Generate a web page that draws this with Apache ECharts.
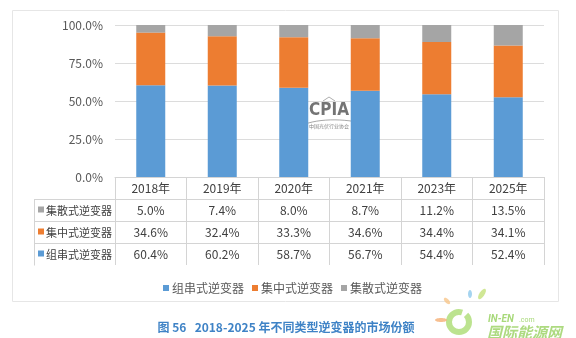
<!DOCTYPE html>
<html>
<head>
<meta charset="utf-8">
<script src="https://cdn.jsdelivr.net/npm/echarts@6/dist/echarts.min.js"></script>
<style>
  html, body { margin: 0; padding: 0; background: #ffffff; }
  #chart { width: 576px; height: 338px; }
</style>
</head>
<body>
<div id="chart"></div>
<script>
// Market share of inverter types, 2018-2025 (%)
const years = ['2018年', '2019年', '2020年', '2021年', '2023年', '2025年'];
const seriesNames = ['组串式逆变器', '集中式逆变器', '集散式逆变器'];
const stringInv = [60.4, 60.2, 58.7, 56.7, 54.4, 52.4];
const centralInv = [34.6, 32.4, 33.3, 34.6, 34.4, 34.1];
const distributedInv = [5.0, 7.4, 8.0, 8.7, 11.2, 13.5];
const yTicks = [0, 25, 50, 75, 100];
const colors = ['#5b9bd5', '#ed7d31', '#a5a5a5'];

const FONT = '"Noto Sans CJK SC", "Microsoft YaHei", sans-serif';
const lineColor = '#d4d4d4';
const textColor = '#404040';

const fmt = v => v.toFixed(1) + '%';

// table rows, top to bottom, drawn under the category axis
const tableRows = [
  { name: seriesNames[2], values: distributedInv, color: colors[2] },
  { name: seriesNames[1], values: centralInv, color: colors[1] },
  { name: seriesNames[0], values: stringInv, color: colors[0] }
];

const gridTop = 25, gridBottomY = 177, rowH = 22;
const tableLeft = 34, tableRight = 544;

const chart = echarts.init(document.getElementById('chart'));

const xAxes = [{
  type: 'category',
  data: years,
  gridIndex: 0,
  position: 'bottom',
  axisLine: { show: true, lineStyle: { color: lineColor } },
  axisTick: { show: true, length: rowH * 4, lineStyle: { color: lineColor } },
  axisLabel: { color: textColor, fontSize: 12, fontFamily: FONT, margin: 5 }
}];
tableRows.forEach((row, i) => {
  xAxes.push({
    type: 'category',
    data: row.values.map(fmt),
    gridIndex: 0,
    position: 'bottom',
    offset: rowH * (i + 1),
    axisLine: { show: false },
    axisTick: { show: false },
    axisLabel: { color: textColor, fontSize: 12, fontFamily: FONT, margin: 5 }
  });
});

const graphics = [
  // outer frame of the figure panel
  { type: 'rect', shape: { x: 12.5, y: 10.5, width: 546, height: 291 },
    style: { fill: 'none', stroke: '#e6e6e6', lineWidth: 1 }, z: -1 }
];
// horizontal table rules
for (let r = 1; r <= 3; r++) {
  const y = gridBottomY + rowH * r + 0.5;
  graphics.push({ type: 'line', shape: { x1: tableLeft, y1: y, x2: tableRight, y2: y },
    style: { stroke: lineColor, lineWidth: 1 } });
}
// left edge of the row-label column
graphics.push({ type: 'line', shape: { x1: tableLeft + 0.5, y1: gridBottomY + rowH + 0.5, x2: tableLeft + 0.5, y2: gridBottomY + rowH * 4 + 0.5 },
  style: { stroke: lineColor, lineWidth: 1 } });
// row labels with colour keys
tableRows.forEach((row, i) => {
  const cy = gridBottomY + rowH * (i + 1) + rowH / 2 + 0.5;
  graphics.push({ type: 'rect', shape: { x: 38, y: cy - 4, width: 6, height: 6 }, style: { fill: row.color } });
  graphics.push({ type: 'text', x: 46, y: cy, style: { text: row.name, fill: textColor, fontSize: 11, fontFamily: FONT, verticalAlign: 'middle', align: 'left' } });
});

// CPIA mark
graphics.push({ type: 'group', children: [
  { type: 'text', x: 329, y: 111, style: { text: 'CPIA', fill: 'rgba(70,70,70,0.75)', fontSize: 17, fontWeight: 'bold', fontFamily: '"DejaVu Sans Condensed", "DejaVu Sans", sans-serif', align: 'center', verticalAlign: 'middle' } },
  { type: 'polyline', shape: { points: [[323, 101], [329, 97], [335, 101]] }, style: { stroke: 'rgba(120,120,120,0.6)', fill: 'none', lineWidth: 1 } },
  { type: 'bezierCurve', shape: { x1: 293, y1: 130, cpx1: 310, cpy1: 118, x2: 362, y2: 123, cpx2: 340, cpy2: 118 }, style: { stroke: 'rgba(110,110,110,0.6)', fill: 'none', lineWidth: 1 } },
  { type: 'text', x: 329, y: 126, style: { text: '中国光伏行业协会', fill: 'rgba(80,80,80,0.7)', fontSize: 5, fontFamily: FONT, align: 'center', verticalAlign: 'middle' } }
] });

// figure caption
graphics.push({ type: 'text', x: 286, y: 327, style: { text: '图 56   2018-2025 年不同类型逆变器的市场份额', fill: '#3f83c6', fontSize: 12, fontWeight: 'bold', fontFamily: FONT, align: 'center', verticalAlign: 'middle' } });

// IN-EN site mark
graphics.push({ type: 'group', children: [
  { type: 'arc', shape: { cx: 459, cy: 322, r: 10, startAngle: -Math.PI * 0.25, endAngle: Math.PI * 1.6 }, style: { stroke: '#a6d96a', fill: 'none', lineWidth: 6, opacity: 0.75 } },
  { type: 'ellipse', shape: { cx: 470, cy: 294, rx: 2, ry: 4 }, style: { fill: '#8ec9ec', opacity: 0.8 } },
  { type: 'ellipse', shape: { cx: 482, cy: 294, rx: 2.5, ry: 6 }, rotation: -0.6, originX: 482, originY: 294, style: { fill: '#c4e17a', opacity: 0.8 } },
  { type: 'ellipse', shape: { cx: 447, cy: 301, rx: 2, ry: 4 }, rotation: 0.8, originX: 447, originY: 301, style: { fill: '#f7c58a', opacity: 0.8 } },
  { type: 'ellipse', shape: { cx: 441, cy: 320, rx: 6, ry: 2 }, style: { fill: '#f4a96b', opacity: 0.75 } },
  { type: 'text', x: 488, y: 319, style: { text: 'IN-EN', fill: '#a8d97a', fontSize: 10, fontStyle: 'italic', fontWeight: 'bold', fontFamily: 'Roboto, sans-serif', verticalAlign: 'middle' } },
  { type: 'text', x: 519, y: 320, style: { text: '.com', fill: '#a8d97a', fontSize: 7, fontFamily: 'Roboto, sans-serif', verticalAlign: 'middle' } },
  { type: 'text', x: 487, y: 332, style: { text: '国际能源网', fill: '#9fd46a', fontSize: 15, fontStyle: 'italic', fontWeight: 'bold', fontFamily: FONT, verticalAlign: 'middle', opacity: 0.85 } }
] });

const option = {
  animation: false,
  backgroundColor: '#ffffff',
  color: colors,
  textStyle: { fontFamily: FONT },
  grid: { left: 115, right: 32, top: gridTop, bottom: 338 - gridBottomY, containLabel: false },
  legend: {
    data: seriesNames,
    left: 158, top: 277,
    icon: 'rect', itemWidth: 6, itemHeight: 6, itemGap: 8,
    textStyle: { color: '#595959', fontSize: 12, fontFamily: FONT, padding: [0, 0, 0, -2] }
  },
  xAxis: xAxes,
  yAxis: {
    type: 'value',
    min: yTicks[0], max: yTicks[yTicks.length - 1], interval: 25,
    axisLine: { show: false }, axisTick: { show: false },
    splitLine: { lineStyle: { color: '#dcdcdc' } },
    axisLabel: { formatter: v => v.toFixed(1) + '%', color: '#595959', fontSize: 12, fontFamily: FONT, margin: 12 }
  },
  series: [
    { name: seriesNames[0], type: 'bar', stack: 'share', data: stringInv, barWidth: 29, xAxisIndex: 0 },
    { name: seriesNames[1], type: 'bar', stack: 'share', data: centralInv, barWidth: 29, xAxisIndex: 0 },
    { name: seriesNames[2], type: 'bar', stack: 'share', data: distributedInv, barWidth: 29, xAxisIndex: 0 }
  ],
  graphic: graphics
};

chart.setOption(option);
</script>
</body>
</html>
